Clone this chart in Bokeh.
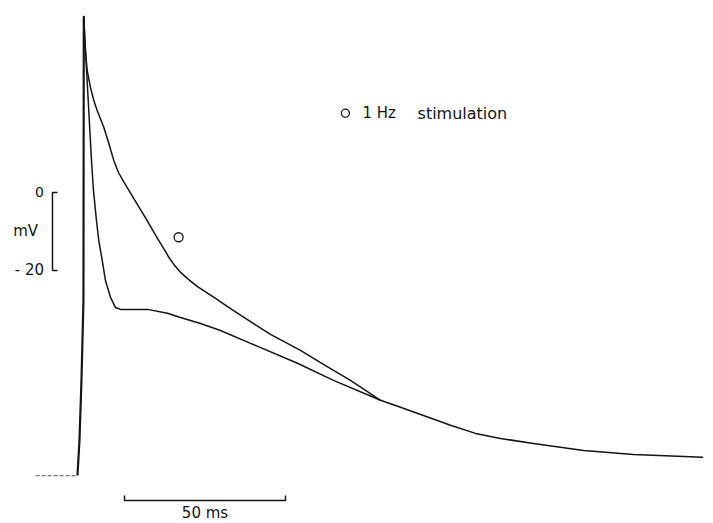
from bokeh.plotting import figure
from bokeh.models import Range1d
from bokeh.core.properties import value
from bokeh.embed import file_html
from bokeh.resources import INLINE

# ---- data (time in ms, membrane potential in mV) ----
t_rest = [-13.0, 0.0]
v_rest = [-72.6, -72.6]

t_up = [0.0, 0.62, 1.24, 1.86, 1.96]
v_up = [-72.6, -63.6, -48.2, -27.7, 45.1]

# control trace with notch (early fast repolarisation + plateau)
t_notch = [1.96, 2.48, 3.51, 4.35, 4.97, 5.90, 6.61, 7.67, 8.70, 10.25, 11.80, 13.35,
           21.74, 27.95, 31.99, 38.20, 44.41, 53.73, 68.32, 79.50, 94.10]
v_notch = [45.1, 36.4, 21.0, 8.2, 0.5, -7.2, -12.3, -17.4, -22.6, -26.9, -29.5, -30.0,
           -30.0, -31.0, -32.1, -33.6, -35.4, -38.7, -43.8, -48.2, -53.3]

# 1 Hz stimulation trace (no notch)
t_1hz = [1.96, 2.33, 3.01, 4.04, 5.06, 6.12, 8.17, 9.72, 11.27, 12.73, 14.29, 17.08,
         19.57, 21.43, 23.20, 24.84, 26.80, 28.42, 30.12, 31.99, 34.47, 37.17, 42.86,
         46.49, 52.17, 59.94, 69.25, 77.02, 84.78, 94.10]
v_1hz = [45.1, 37.7, 31.3, 26.9, 23.6, 21.0, 16.7, 12.6, 8.2, 5.1, 2.8, -1.0,
         -4.4, -6.9, -9.5, -11.8, -14.4, -16.7, -18.7, -20.5, -22.3, -24.1, -27.2,
         -29.2, -32.3, -36.4, -40.5, -44.4, -48.2, -53.3]

# common final repolarisation
t_tail = [94.10, 100.31, 108.07, 115.84, 123.60, 131.37, 141.61, 157.14, 172.67, 194.10]
v_tail = [-53.3, -55.1, -57.4, -59.7, -61.8, -63.1, -64.4, -66.2, -67.2, -67.9]

# marker + legend
marker_t, marker_v = [31.4], [-11.5]
legend_t, legend_v = [83.2], [20.3]
legend_labels = ["1 Hz", "stimulation"]

# scale bars
mv_bar = [0, -20]
ms_bar = 50

p = figure(width=713, height=523, output_backend="svg", toolbar_location=None,
           x_range=Range1d(-23.9, 197.5), y_range=Range1d(-84.9, 49.2),
           min_border=0, outline_line_color=None)
p.xaxis.visible = False
p.yaxis.visible = False
p.grid.visible = False
p.background_fill_color = "white"
p.border_fill_color = "white"

ink = "#151515"

# resting baseline (dashed)
p.line(t_rest, v_rest, line_color="#777777", line_width=1.2, line_dash="4 2")
# upstroke
p.line(t_up, v_up, line_color=ink, line_width=2.2, line_join="round")
# control trace
p.line(t_notch + t_tail, v_notch + v_tail, line_color=ink, line_width=1.5,
       line_join="round", line_cap="round")
# 1 Hz trace
p.line(t_1hz, v_1hz, line_color=ink, line_width=1.5, line_join="round", line_cap="round")

# marker on 1 Hz trace and legend
p.scatter(marker_t, marker_v, marker="circle", size=9, fill_color="white",
          line_color=ink, line_width=1.3)
p.scatter(legend_t, legend_v, marker="circle", size=8, fill_color="white",
          line_color=ink, line_width=1.3)
p.text([legend_t[0] + 5.3], [legend_v[0]], text=[legend_labels[0]],
       text_font=value("DejaVu Sans"), text_font_size="15px",
       text_baseline="middle", text_align="left", text_color=ink)
p.text([legend_t[0] + 22.4], [legend_v[0]], text=[legend_labels[1]],
       text_font=value("DejaVu Sans"), text_font_size="16px",
       text_baseline="middle", text_align="left", text_color=ink)

# vertical scale bar [
xb = -7.76
xt = -6.2
p.line([xt, xb, xb, xt], [mv_bar[0], mv_bar[0], mv_bar[1], mv_bar[1]],
       line_color=ink, line_width=1.5)
p.text([-10.4], [mv_bar[0]], text=[str(mv_bar[0])], text_font=value("DejaVu Sans"),
       text_font_size="14px", text_align="right", text_baseline="middle", text_color=ink)
p.text([-16.1], [(mv_bar[0] + mv_bar[1]) / 2], text=["mV"], text_font=value("DejaVu Sans"),
       text_font_size="15px", text_align="center", text_baseline="middle", text_color=ink)
p.text([-10.4], [mv_bar[1]], text=["- " + str(abs(mv_bar[1]))], text_font=value("DejaVu Sans"),
       text_font_size="15px", text_align="right", text_baseline="middle", text_color=ink)

# horizontal scale bar
x0 = 14.6
yb = -79.0
yt = -77.7
p.line([x0, x0, x0 + ms_bar, x0 + ms_bar], [yt, yb, yb, yt], line_color=ink, line_width=1.5)
p.text([x0 + ms_bar / 2], [-82.2], text=[f"{ms_bar} ms"], text_font=value("DejaVu Sans"),
       text_font_size="15px", text_align="center", text_baseline="middle", text_color=ink)

open("out.html", "w").write(file_html(p, INLINE))
